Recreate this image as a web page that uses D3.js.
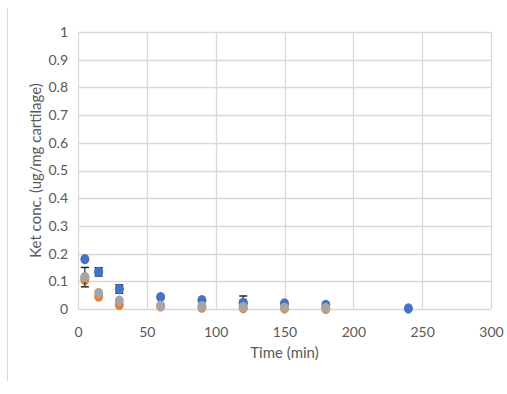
<!DOCTYPE html>
<html><head><meta charset="utf-8">
<script src="https://cdn.jsdelivr.net/npm/d3@7"></script>
<style>body{margin:0;background:#fff}svg{display:block}</style>
</head><body>
<script>
const times = [5, 15, 30, 60, 90, 120, 150, 180, 240];
const blueVals   = [0.18, 0.134, 0.072, 0.043, 0.032, 0.022, 0.02, 0.015, 0.002];
const orangeVals = [0.105, 0.045, 0.015, 0.01, 0.005, 0.003, 0.002, 0.001, null];
const grayVals   = [0.115, 0.058, 0.03, 0.012, 0.01, 0.007, 0.005, 0.004, null];
const blueErr    = [0, 0.015, 0.015, 0, 0, 0.025, 0, 0, 0];
const orangeErr  = [0, 0, 0, 0, 0, 0, 0, 0, 0];
const grayErr    = [0.035, 0, 0, 0, 0, 0, 0, 0, 0];
const xTicks = [0, 50, 100, 150, 200, 250, 300];
const yTicks = [0, 0.1, 0.2, 0.3, 0.4, 0.5, 0.6, 0.7, 0.8, 0.9, 1];
const series = [
  {name: "blue", vals: blueVals, err: blueErr, color: "#4472C4"},
  {name: "orange", vals: orangeVals, err: orangeErr, color: "#ED7D31"},
  {name: "gray", vals: grayVals, err: grayErr, color: "#A5A5A5"}
];

const W = 507, H = 394;
const svg = d3.select("body").append("svg").attr("width", W).attr("height", H);
const x = d3.scaleLinear().domain([0, 300]).range([78, 491]);
const y = d3.scaleLinear().domain([0, 1]).range([309, 32]);
const font = "Lato, 'Open Sans', sans-serif";

// left border line
svg.append("line").attr("x1", 7.5).attr("x2", 7.5).attr("y1", 8).attr("y2", 381)
  .attr("stroke", "#d9d9d9").attr("stroke-width", 1);

// grid
svg.append("g").selectAll("line").data(yTicks).join("line")
  .attr("x1", x(0)).attr("x2", x(300))
  .attr("y1", d => Math.round(y(d)) + 0.5).attr("y2", d => Math.round(y(d)) + 0.5)
  .attr("stroke", "#d9d9d9").attr("stroke-width", 1.3);
svg.append("g").selectAll("line").data(xTicks).join("line")
  .attr("y1", y(0)).attr("y2", y(1))
  .attr("x1", d => Math.round(x(d)) + 0.5).attr("x2", d => Math.round(x(d)) + 0.5)
  .attr("stroke", "#d9d9d9").attr("stroke-width", 1.3);

// axes via d3 axis generators (labels only)
const yAxis = svg.append("g").attr("transform", `translate(${x(0)},0)`)
  .call(d3.axisLeft(y).tickValues(yTicks).tickSize(0).tickPadding(10).tickFormat(d => d3.format("")(+d.toFixed(1))));
yAxis.select(".domain").remove();
yAxis.selectAll("text").attr("font-family", font).attr("font-size", 14).attr("fill", "#595959");

const xAxis = svg.append("g").attr("transform", `translate(0,${y(0)})`)
  .call(d3.axisBottom(x).tickValues(xTicks).tickSize(0).tickPadding(18));
xAxis.select(".domain").remove();
xAxis.selectAll("text").attr("font-family", font).attr("font-size", 14).attr("fill", "#595959");

// axis titles
svg.append("text").attr("x", x(150) + 0).attr("y", 358).attr("text-anchor", "middle")
  .attr("font-family", font).attr("font-size", 15).attr("fill", "#595959").text("Time (min)");
svg.append("text").attr("transform", `translate(41,${(y(0)+y(1))/2}) rotate(-90)`)
  .attr("text-anchor", "middle").attr("font-family", font).attr("font-size", 15)
  .attr("fill", "#595959").text("Ket conc. (ug/mg cartilage)");

// series
series.forEach(s => {
  const pts = times.map((t, i) => ({t, v: s.vals[i], e: s.err[i]})).filter(p => p.v !== null);
  const g = svg.append("g");
  g.selectAll("ellipse").data(pts).join("ellipse")
    .attr("cx", p => x(p.t)).attr("cy", p => y(p.v))
    .attr("rx", 4.5).attr("ry", 5.2).attr("fill", s.color);
  const eb = g.selectAll("g.eb").data(pts.filter(p => p.e > 0)).join("g").attr("class", "eb");
  eb.append("line").attr("x1", p => x(p.t)).attr("x2", p => x(p.t))
    .attr("y1", p => y(p.v + p.e)).attr("y2", p => y(Math.max(0, p.v - p.e)))
    .attr("stroke", "#262626").attr("stroke-width", 1.2);
  eb.append("line").attr("x1", p => x(p.t) - 4).attr("x2", p => x(p.t) + 4)
    .attr("y1", p => y(p.v + p.e)).attr("y2", p => y(p.v + p.e))
    .attr("stroke", "#262626").attr("stroke-width", 1.5);
  eb.append("line").attr("x1", p => x(p.t) - 4).attr("x2", p => x(p.t) + 4)
    .attr("y1", p => y(Math.max(0, p.v - p.e))).attr("y2", p => y(Math.max(0, p.v - p.e)))
    .attr("stroke", "#262626").attr("stroke-width", 1.5);
  // redraw markers on top of error bars
  g.selectAll("ellipse.top").data(pts.filter(p => p.e > 0)).join("ellipse").attr("class", "top")
    .attr("cx", p => x(p.t)).attr("cy", p => y(p.v))
    .attr("rx", 4.5).attr("ry", 5.2).attr("fill", s.color);
});
</script>
</body></html>
